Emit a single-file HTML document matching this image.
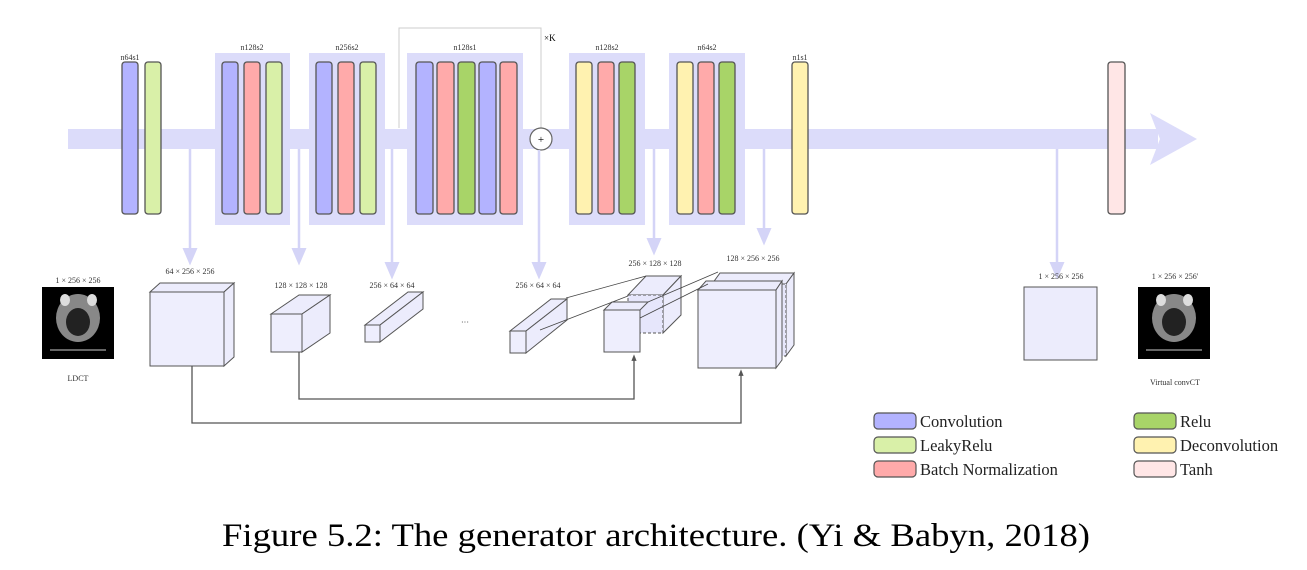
<!DOCTYPE html>
<html><head><meta charset="utf-8"><style>
html,body{margin:0;padding:0;background:#fff;}
svg{display:block;font-family:"Liberation Serif",serif;}
</style></head><body>
<svg width="1307" height="570" viewBox="0 0 1307 570">
<defs>
<marker id="ah" markerWidth="8" markerHeight="8" refX="4" refY="4" orient="auto"><path d="M0,1 L7,4 L0,7 Z" fill="#d4d4f7"/></marker>
<marker id="ak" markerWidth="6" markerHeight="6" refX="3" refY="3" orient="auto"><path d="M0,1 L5,3 L0,5 Z" fill="#555"/></marker>
</defs>
<rect x="68" y="129" width="1090" height="20" fill="#dcdcfa"/>
<polygon points="1150,113 1197,139 1150,165 1160,139" fill="#dcdcfa"/>
<polyline points="399,128 399,28 541,28 541,128" fill="none" stroke="#ccc" stroke-width="1"/>
<text x="544" y="41" font-size="9">×K</text>
<g fill="#dcdcfa">
<rect x="215" y="53" width="75" height="172"/>
<rect x="309" y="53" width="76" height="172"/>
<rect x="407" y="53" width="116" height="172"/>
<rect x="569" y="53" width="76" height="172"/>
<rect x="669" y="53" width="76" height="172"/>
</g>
<g font-size="8" text-anchor="middle" fill="#333">
<text x="130" y="60">n64s1</text>
<text x="252" y="50">n128s2</text>
<text x="347" y="50">n256s2</text>
<text x="465" y="50">n128s1</text>
<text x="607" y="50">n128s2</text>
<text x="707" y="50">n64s2</text>
<text x="800" y="60">n1s1</text>
</g>
<g stroke="#555" stroke-width="1.3">
<rect x="122" y="62" width="16" height="152" rx="3" fill="#b3b3ff"/>
<rect x="145" y="62" width="16" height="152" rx="3" fill="#d9f0a8"/>
<rect x="222" y="62" width="16" height="152" rx="3" fill="#b3b3ff"/>
<rect x="244" y="62" width="16" height="152" rx="3" fill="#ffaaaa"/>
<rect x="266" y="62" width="16" height="152" rx="3" fill="#d9f0a8"/>
<rect x="316" y="62" width="16" height="152" rx="3" fill="#b3b3ff"/>
<rect x="338" y="62" width="16" height="152" rx="3" fill="#ffaaaa"/>
<rect x="360" y="62" width="16" height="152" rx="3" fill="#d9f0a8"/>
<rect x="416" y="62" width="17" height="152" rx="3" fill="#b3b3ff"/>
<rect x="437" y="62" width="17" height="152" rx="3" fill="#ffaaaa"/>
<rect x="458" y="62" width="17" height="152" rx="3" fill="#a8d468"/>
<rect x="479" y="62" width="17" height="152" rx="3" fill="#b3b3ff"/>
<rect x="500" y="62" width="17" height="152" rx="3" fill="#ffaaaa"/>
<rect x="576" y="62" width="16" height="152" rx="3" fill="#fff2b0"/>
<rect x="598" y="62" width="16" height="152" rx="3" fill="#ffaaaa"/>
<rect x="619" y="62" width="16" height="152" rx="3" fill="#a8d468"/>
<rect x="677" y="62" width="16" height="152" rx="3" fill="#fff2b0"/>
<rect x="698" y="62" width="16" height="152" rx="3" fill="#ffaaaa"/>
<rect x="719" y="62" width="16" height="152" rx="3" fill="#a8d468"/>
<rect x="792" y="62" width="16" height="152" rx="3" fill="#fff2b0"/>
<rect x="1108" y="62" width="17" height="152" rx="3" fill="#ffe6e6"/>
</g>
<circle cx="541" cy="139" r="11" fill="#fff" stroke="#666" stroke-width="1.2"/>
<text x="541" y="143" font-size="11" text-anchor="middle">+</text>
<g stroke="#d4d4f7" stroke-width="2.5" marker-end="url(#ah)">
<line x1="190" y1="149" x2="190" y2="258"/>
<line x1="299" y1="149" x2="299" y2="258"/>
<line x1="392" y1="149" x2="392" y2="272"/>
<line x1="539" y1="150" x2="539" y2="272"/>
<line x1="654" y1="149" x2="654" y2="248"/>
<line x1="764" y1="149" x2="764" y2="238"/>
<line x1="1057" y1="149" x2="1057" y2="272"/>
</g>
<g font-size="8" text-anchor="middle" fill="#333">
<text x="78" y="283">1 × 256 × 256</text>
<text x="190" y="274">64 × 256 × 256</text>
<text x="301" y="288">128 × 128 × 128</text>
<text x="392" y="288">256 × 64 × 64</text>
<text x="538" y="288">256 × 64 × 64</text>
<text x="655" y="266">256 × 128 × 128</text>
<text x="753" y="261">128 × 256 × 256</text>
<text x="1061" y="279">1 × 256 × 256</text>
<text x="1175" y="279">1 × 256 × 256'</text>
<text x="78" y="381">LDCT</text>
<text x="1175" y="385">Virtual convCT</text>
<text x="465" y="325">···</text>
</g>
<g>
<rect x="42" y="287" width="72" height="72" fill="#000"/>
<ellipse cx="78" cy="318" rx="22" ry="24" fill="#888"/>
<ellipse cx="78" cy="322" rx="12" ry="14" fill="#222"/>
<ellipse cx="65" cy="300" rx="5" ry="6" fill="#ddd"/>
<ellipse cx="92" cy="300" rx="5" ry="6" fill="#ddd"/>
<line x1="50" y1="350" x2="106" y2="350" stroke="#888" stroke-width="1.5"/>
<rect x="1138" y="287" width="72" height="72" fill="#000"/>
<ellipse cx="1174" cy="318" rx="22" ry="24" fill="#888"/>
<ellipse cx="1174" cy="322" rx="12" ry="14" fill="#222"/>
<ellipse cx="1161" cy="300" rx="5" ry="6" fill="#ddd"/>
<ellipse cx="1188" cy="300" rx="5" ry="6" fill="#ddd"/>
<line x1="1146" y1="350" x2="1202" y2="350" stroke="#888" stroke-width="1.5"/>
</g>
<g stroke="#555" stroke-width="1" fill="#ececfc">
<polygon points="150,292 160,283 234,283 224,292"/>
<polygon points="224,292 234,283 234,357 224,366"/>
<rect x="150" y="292" width="74" height="74" fill="#eeeefd"/>
<polygon points="271,314 299,295 330,295 302,314"/>
<polygon points="302,314 330,295 330,333 302,352"/>
<rect x="271" y="314" width="31" height="38" fill="#eeeefd"/>
<polygon points="365,325 408,292 423,292 380,325"/>
<polygon points="380,325 423,292 423,309 380,342"/>
<rect x="365" y="325" width="15" height="17" fill="#eeeefd"/>
<polygon points="510,331 551,299 567,299 526,331"/>
<polygon points="526,331 567,299 567,320 526,353"/>
<rect x="510" y="331" width="16" height="22" fill="#eeeefd"/>
<polygon points="628,295 646,276 681,276 663,295"/>
<polygon points="663,295 681,276 681,315 663,333"/>
<rect x="628" y="295" width="35" height="38" fill="#e6e6fb" stroke-dasharray="3,2"/>
<polygon points="604,310 612,302 648,302 640,310"/>
<rect x="604" y="310" width="36" height="42" fill="#eeeefd"/>
<polygon points="712,284 720,273 794,273 786,284"/>
<polygon points="786,284 794,273 794,345 786,356"/>
<rect x="712" y="284" width="74" height="72" fill="#e6e6fb" stroke-dasharray="3,2"/>
<polygon points="698,290 706,281 782,281 776,290"/>
<polygon points="776,290 782,281 782,360 776,368"/>
<rect x="698" y="290" width="78" height="78" fill="#eeeefd"/>
</g>
<g stroke="#444" stroke-width="0.8" fill="none">
<line x1="566" y1="298" x2="646" y2="276"/>
<line x1="540" y1="330" x2="628" y2="296"/>
<line x1="648" y1="302" x2="718" y2="272"/>
<line x1="640" y1="318" x2="708" y2="284"/>
</g>
<rect x="1024" y="287" width="73" height="73" fill="#ececfc" stroke="#555" stroke-width="1"/>
<g stroke="#555" stroke-width="1.3" fill="none">
<polyline points="192,366 192,423 741,423 741,372" marker-end="url(#ak)"/>
<polyline points="299,352 299,399 634,399 634,357" marker-end="url(#ak)"/>
</g>
<g stroke="#555" stroke-width="1.2">
<rect x="874" y="413" width="42" height="16" rx="4" fill="#b3b3ff"/>
<rect x="874" y="437" width="42" height="16" rx="4" fill="#d9f0a8"/>
<rect x="874" y="461" width="42" height="16" rx="4" fill="#ffaaaa"/>
<rect x="1134" y="413" width="42" height="16" rx="4" fill="#a8d468"/>
<rect x="1134" y="437" width="42" height="16" rx="4" fill="#fff2b0"/>
<rect x="1134" y="461" width="42" height="16" rx="4" fill="#ffe6e6"/>
</g>
<g font-size="16.5" fill="#222">
<text x="920" y="427">Convolution</text>
<text x="920" y="451">LeakyRelu</text>
<text x="920" y="475">Batch Normalization</text>
<text x="1180" y="427">Relu</text>
<text x="1180" y="451">Deconvolution</text>
<text x="1180" y="475">Tanh</text>
</g>
<text x="222" y="546" font-size="33" textLength="868" lengthAdjust="spacingAndGlyphs" fill="#000">Figure 5.2: The generator architecture. (Yi &amp; Babyn, 2018)</text>
</svg>
</body></html>
